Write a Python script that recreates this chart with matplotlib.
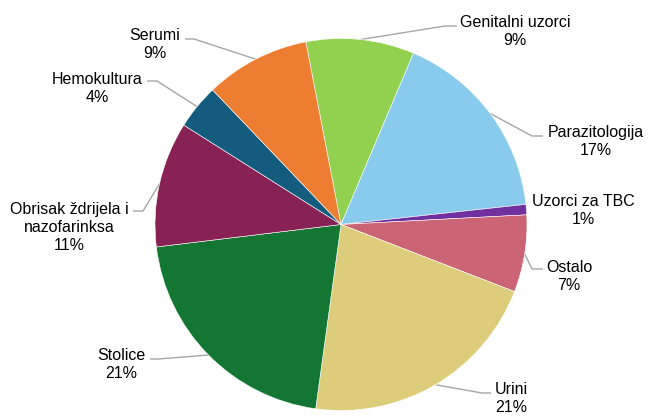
import numpy as np
import matplotlib
matplotlib.use("Agg")
import matplotlib.pyplot as plt

# Sample categories (clockwise from the top) and their shares in percent
categories = ["Genitalni uzorci", "Parazitologija", "Uzorci za TBC", "Ostalo",
              "Urini", "Stolice", "Obrisak ždrijela i\nnazofarinksa",
              "Hemokultura", "Serumi"]
shares = [9.4, 16.9, 0.9, 6.7, 21.3, 20.9, 10.9, 3.9, 9.1]
colors = ["#92D050", "#88CBEC", "#7030A0", "#CB6474", "#DDCD7A",
          "#137733", "#882255", "#135C7E", "#ED7D31"]

W, H = 648, 417
fig = plt.figure(figsize=(W / 100, H / 100), dpi=100)
ax = fig.add_axes([0, 0, 1, 1])

cx, cy, R = 341, H - 224.5, 186
wedges, _ = ax.pie(shares, colors=colors, startangle=100.9, counterclock=False,
                   center=(cx, cy), radius=R,
                   wedgeprops=dict(edgecolor="white", linewidth=0.4))
ax.set_xlim(0, W)
ax.set_ylim(0, H)
ax.set_aspect("equal")
ax.axis("off")

# Label layout in pixel units (y measured from the top):
# text centre x, text centre y, hook end x, hook y, elbow x (None = no leader)
layout = [
    (515, 31.5, 457, 26, 445),
    (596, 141, 543, 136, 532),
    (583, 210, None, None, None),
    (569, 276, 543, 269, 532),
    (511, 398, 491, 393, 482),
    (121, 365, 150, 359, 158),
    (69, 227.5, 133, 211, 143),
    (97, 88, 147, 81, 157),
    (155, 44, 185, 39, 194),
]

line_color = "#A6A6A6"
for w, name, val, (tx, ty, hx, hy, ex) in zip(wedges, categories, shares, layout):
    ax.text(tx, H - ty, f"{name}\n{round(val)}%", ha="center", va="center",
            fontsize=11.5, family="Liberation Sans", color="#000000",
            linespacing=1.25)
    if hx is None:
        continue
    mid = np.deg2rad((w.theta1 + w.theta2) / 2)
    px, py = cx + R * np.cos(mid), cy + R * np.sin(mid)
    ax.plot([px, ex, hx], [py, H - hy, H - hy], color=line_color,
            linewidth=1.0, solid_capstyle="butt", zorder=0.5)

fig.savefig("out.png", dpi=100)
